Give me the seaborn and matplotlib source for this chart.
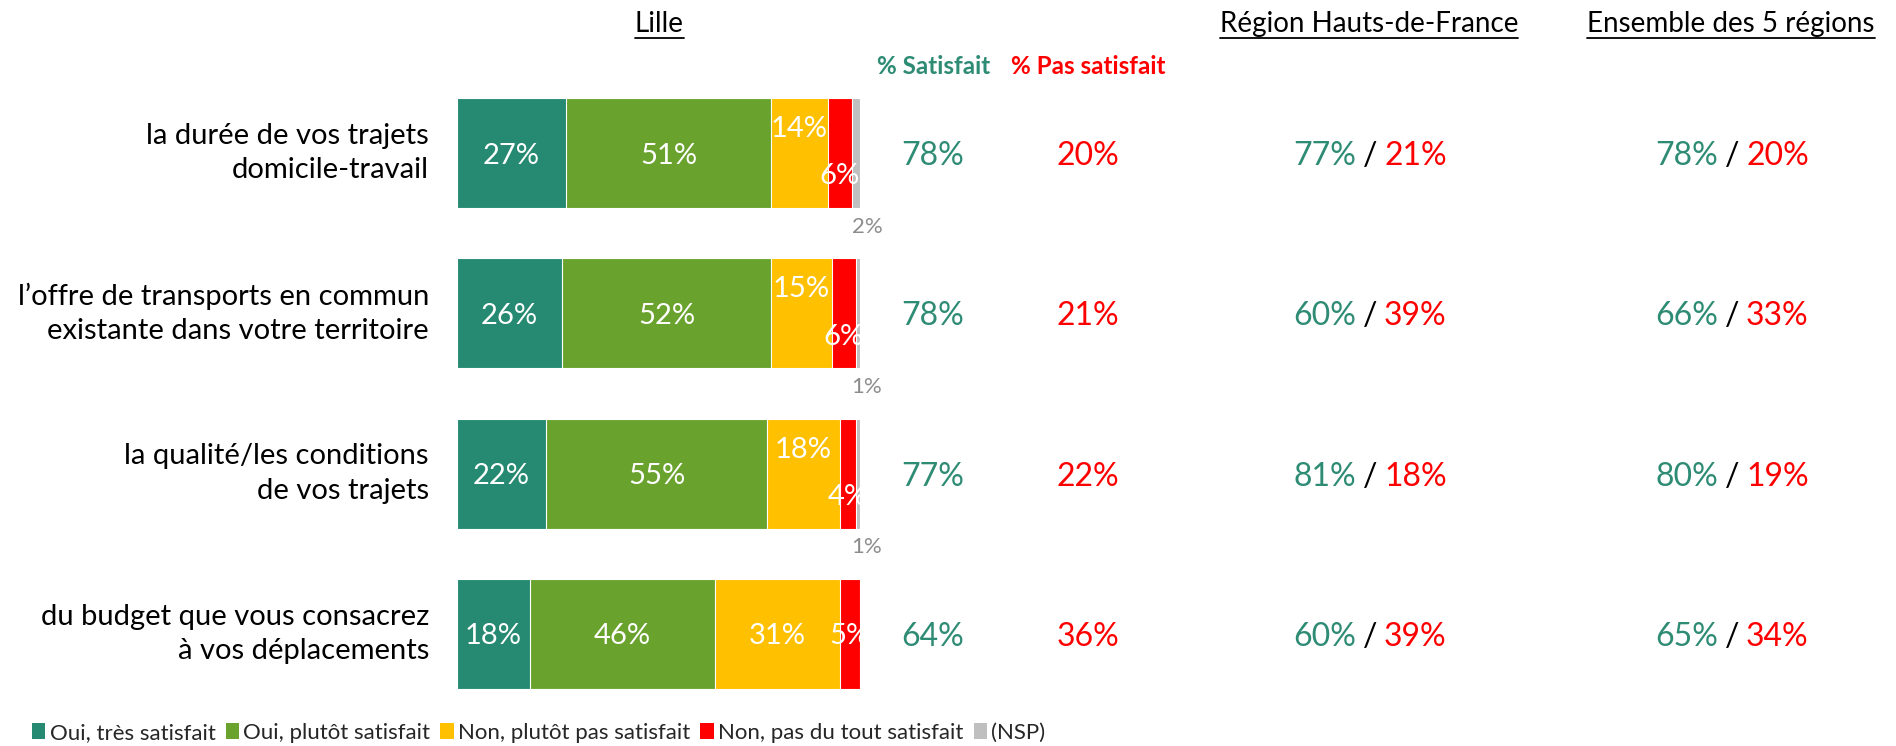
import numpy as np
import pandas as pd
import matplotlib
matplotlib.use("Agg")
import matplotlib.pyplot as plt
import matplotlib.transforms as mtransforms
from matplotlib.patches import Patch
from matplotlib.lines import Line2D
import seaborn as sns

# Data
categories = [
    "la durée de vos trajets\ndomicile-travail",
    "l\u2019offre de transports en commun\nexistante dans votre territoire",
    "la qualité/les conditions\nde vos trajets",
    "du budget que vous consacrez\nà vos déplacements",
]
levels = ["Oui, très satisfait", "Oui, plutôt satisfait", "Non, plutôt pas satisfait",
          "Non, pas du tout satisfait", "(NSP)"]
tres_satisfait = [27, 26, 22, 18]
plutot_satisfait = [51, 52, 55, 46]
plutot_pas = [14, 15, 18, 31]
pas_du_tout = [6, 6, 4, 5]
nsp = [2, 1, 1, 0]

lille_sat = [78, 78, 77, 64]
lille_pas = [20, 21, 22, 36]
region_sat = [77, 60, 81, 60]
region_pas = [21, 39, 18, 39]
ensemble_sat = [78, 66, 80, 65]
ensemble_pas = [20, 33, 19, 34]

colors = ["#268A72", "#6AA22E", "#FFC000", "#FF0000", "#BFBFBF"]
TEAL = "#2E8B74"
RED = "#FF0000"

sns.set_theme(style="white")
plt.rcParams["font.family"] = ["Lato", "DejaVu Sans"]

W, H = 1896, 746
fig = plt.figure(figsize=(W / 100, H / 100), dpi=100)
ax = fig.add_axes([457 / W, 1 - 714 / H, 403 / W, 641 / H])

series = np.array([tres_satisfait, plutot_satisfait, plutot_pas, pas_du_tout, nsp])
cum = series.cumsum(axis=0)
df = pd.DataFrame({"cat": categories})

# stacked bars: draw cumulative totals from the outside in
for i in range(len(levels) - 1, -1, -1):
    df["val"] = cum[i]
    sns.barplot(data=df, x="val", y="cat", orient="h", color=colors[i], saturation=1,
                width=0.686, edgecolor="white", linewidth=0.8, ax=ax)

ax.set_xlim(0, 100)
ax.set_ylim(3.5, -0.5)
ax.axis("off")

# labels inside the bars
for r in range(len(categories)):
    narrow = plutot_pas[r] < 20
    for i in range(4):
        v = series[i][r]
        xc = cum[i][r] - v / 2
        dy = 0
        if narrow and i == 2:
            dy = 19
        elif narrow and i == 3:
            dy = -15
        ax.annotate(f"{v}%", (xc, r), xytext=(0, dy), textcoords="offset points",
                    ha="center", va="center_baseline", color="white", fontsize=21)
    if nsp[r] > 0:
        ax.annotate(f"{nsp[r]}%", (100, r + 0.343), xytext=(5, -12),
                    textcoords="offset points", ha="center", va="center_baseline",
                    color="#8C8C8C", fontsize=16)

tr = mtransforms.blended_transform_factory(fig.transFigure, ax.transData)

for r, cat in enumerate(categories):
    fig.text(429 / W, r, cat, transform=tr, ha="right", va="center", fontsize=21,
             color="black", linespacing=1.4)
    fig.text(933 / W, r, f"{lille_sat[r]}%", transform=tr, ha="center",
             va="center_baseline", fontsize=23, color=TEAL)
    fig.text(1088 / W, r, f"{lille_pas[r]}%", transform=tr, ha="center",
             va="center_baseline", fontsize=23, color=RED)
    for xc, s, p in [(1370, region_sat[r], region_pas[r]),
                     (1732, ensemble_sat[r], ensemble_pas[r])]:
        fig.text(xc / W, r, "/", transform=tr, ha="center", va="center_baseline",
                 fontsize=23, color="black")
        fig.text((xc - 14) / W, r, f"{s}%", transform=tr, ha="right",
                 va="center_baseline", fontsize=23, color=TEAL)
        fig.text((xc + 14) / W, r, f"{p}%", transform=tr, ha="left",
                 va="center_baseline", fontsize=23, color=RED)

# column headers
titles = []
for xc, t in [(659, "Lille"), (1369, "Région Hauts-de-France"), (1731, "Ensemble des 5 régions")]:
    titles.append(fig.text(xc / W, 1 - 24 / H, t, ha="center", va="center", fontsize=20,
                           color="black"))
fig.text(934 / W, 1 - 66 / H, "% Satisfait", ha="center", va="center", fontsize=17.5,
         fontweight="bold", color=TEAL)
fig.text(1088 / W, 1 - 66 / H, "% Pas satisfait", ha="center", va="center", fontsize=17.5,
         fontweight="bold", color=RED)

# underline the headers
fig.canvas.draw()
renderer = fig.canvas.get_renderer()
for t in titles:
    bb = t.get_window_extent(renderer)
    y = (bb.y0 - 1) / H
    fig.add_artist(Line2D([bb.x0 / W, bb.x1 / W], [y, y], color="black", lw=1.3))

handles = [Patch(facecolor=c, edgecolor="none") for c in colors]
fig.legend(handles, levels, loc="center left", bbox_to_anchor=(32 / W, 1 - 733 / H),
           ncol=5, frameon=False, fontsize=16, handlelength=0.6, handleheight=0.7,
           handletextpad=0.2, columnspacing=0.45, borderaxespad=0, borderpad=0)

fig.savefig("out.png", dpi=100)
